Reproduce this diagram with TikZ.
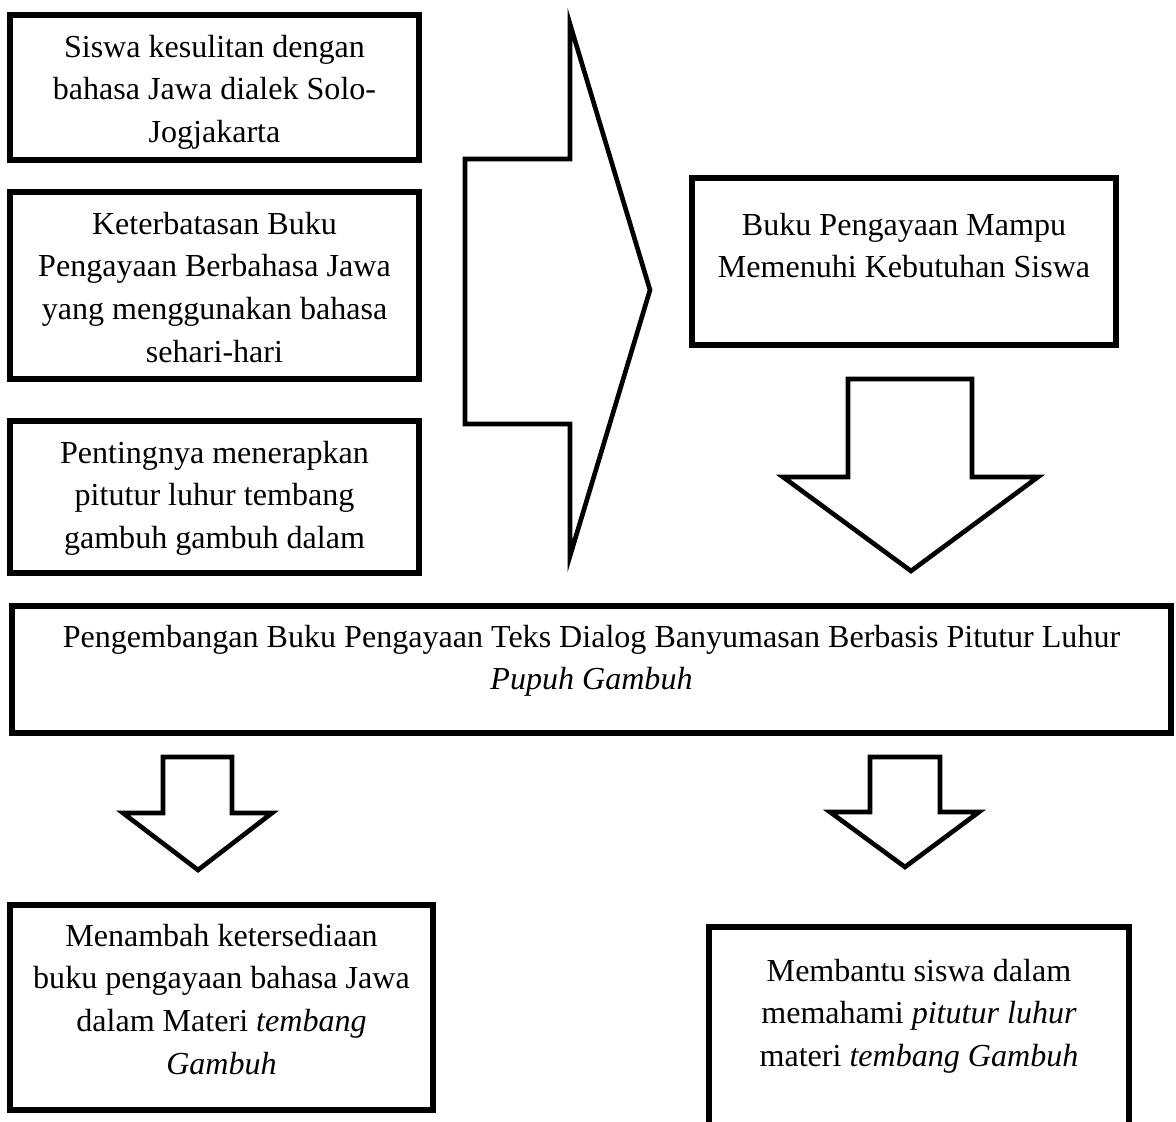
\documentclass[tikz,border=0pt]{standalone}
\usepackage{fontspec}
\setmainfont{Liberation Serif}
\newlength\px
\setlength\px{0.025cm}
% text block inside a box: width, height, top gap, lines
\newcommand{\boxtext}[4]{\parbox[c][#2\px][t]{#1\px}{\centering\vspace*{#3\px}\strut #4}}
\tikzset{
  kotak/.style={draw, line width=3.6pt, inner sep=0pt, outer sep=0pt, anchor=north west, font=\fontsize{22.8}{30.5}\selectfont},
  panah/.style={draw, line width=3.3pt, fill=white}
}
\begin{document}
\begin{tikzpicture}[x=1\px, y=-1\px]
    \clip (0,0) rectangle (1176,1122);
    \fill[white] (0,0) rectangle (1176,1122);

    % Problems on the left
    \node[kotak] (siswa) at (10,15) {\boxtext{409}{145}{12}{Siswa kesulitan dengan\\bahasa Jawa dialek Solo-\\Jogjakarta}};
    \node[kotak] (keterbatasan) at (10,192) {\boxtext{409}{187}{12}{Keterbatasan Buku\\Pengayaan Berbahasa Jawa\\yang menggunakan bahasa\\sehari-hari}};
    \node[kotak] (penting) at (10,421) {\boxtext{409}{152}{12}{Pentingnya menerapkan\\pitutur luhur tembang\\gambuh gambuh dalam}};

    % Big arrow to the right
    \draw[panah] (465,159) -- (570,159) -- (570,24) -- (650,290) -- (570,556) -- (570,424) -- (465,424) -- cycle;

    % Need on the right
    \node[kotak] (mampu) at (692,178) {\boxtext{424}{167}{27}{Buku Pengayaan Mampu\\Memenuhi Kebutuhan Siswa}};
    \draw[panah] (848,379) -- (972,379) -- (972,477) -- (1038,477) -- (911,571) -- (783,477) -- (848,477) -- cycle;

    % Product
    \node[kotak] (pengembangan) at (12,606) {\boxtext{1159}{127}{11}{Pengembangan Buku Pengayaan Teks Dialog Banyumasan Berbasis Pitutur Luhur\\\textit{Pupuh Gambuh}}};

    % Arrows down to the outcomes
    \draw[panah] (163,757) -- (232,757) -- (232,813) -- (272,813) -- (198,870) -- (123,813) -- (163,813) -- cycle;
    \draw[panah] (870,757) -- (940,757) -- (940,812) -- (979,812) -- (905,867) -- (830,812) -- (870,812) -- cycle;

    % Outcomes
    \node[kotak] (menambah) at (10,905) {\boxtext{423}{205}{11}{Menambah ketersediaan\\buku pengayaan bahasa Jawa\\dalam Materi \textit{tembang}\\\textit{Gambuh}}};
    \node[kotak] (membantu) at (709,927) {\boxtext{420}{260}{24}{Membantu siswa dalam\\memahami \textit{pitutur luhur}\\materi \textit{tembang Gambuh}}};
\end{tikzpicture}
\end{document}
